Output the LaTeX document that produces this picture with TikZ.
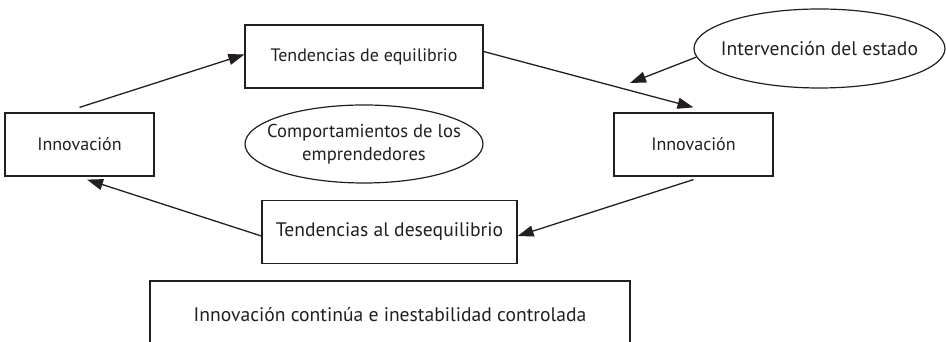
\documentclass[tikz,border=0pt]{standalone}
\usepackage{fontspec}
\setmainfont{PT Sans}
\usetikzlibrary{arrows.meta,positioning,shapes.geometric}
\definecolor{ink}{HTML}{231F20}
\tikzset{
  every node/.style={font=\fontsize{18}{23}\selectfont, text=ink},
  big/.style={font=\fontsize{19.6}{23}\selectfont},
  box/.style={draw=ink, line width=1.2pt, fill=white, align=center, minimum height=63pt, inner sep=0pt},
  oval/.style={draw=ink, ellipse, line width=1.2pt, align=center, inner ysep=0pt, inner xsep=-30pt},
  arrow/.style={-{Triangle[length=16pt,width=11pt]}, line width=1.3pt, draw=ink},
}
\begin{document}
\begin{tikzpicture}[x=1pt,y=1pt]
\useasboundingbox (0,0) rectangle (946,342);
\node[box, minimum width=238pt] (eq) at (364,285.5) {Tendencias de equilibrio};
\node[box, minimum width=149pt] (linn) at (79.5,197.5) {Innovación};
\node[box, minimum width=159pt] (rinn) at (693.5,197.5) {Innovación};
\node[oval, minimum width=238pt, minimum height=78pt, font=\fontsize{18.6}{23}\selectfont] (comp) at (364,198) {Comportamientos de los\\emprendedores};
\node[oval, big, minimum width=251pt, minimum height=79pt] (estado) at (819.5,293.5) {Intervención del estado};
\node[box, big, minimum width=255pt] (deseq) at (389.5,110) {Tendencias al desequilibrio};
\node[box, big, minimum width=480pt, minimum height=68pt] (final) at (390,27) {Innovación continúa e inestabilidad controlada};
\coordinate (hit) at (630,259);
\draw[arrow] ([yshift=5pt]linn.north) -- ([yshift=2pt]eq.west);
\draw[arrow] ([yshift=5pt]eq.east) -- ([yshift=5pt]rinn.north);
\draw[arrow] (estado.184) -- (hit);
\draw[arrow] ([yshift=-3pt]rinn.south) -- ([yshift=-4pt]deseq.east);
\draw[arrow] ([yshift=-4pt]deseq.west) -- ([shift={(7.5pt,-3pt)}]linn.south);
\end{tikzpicture}
\end{document}
